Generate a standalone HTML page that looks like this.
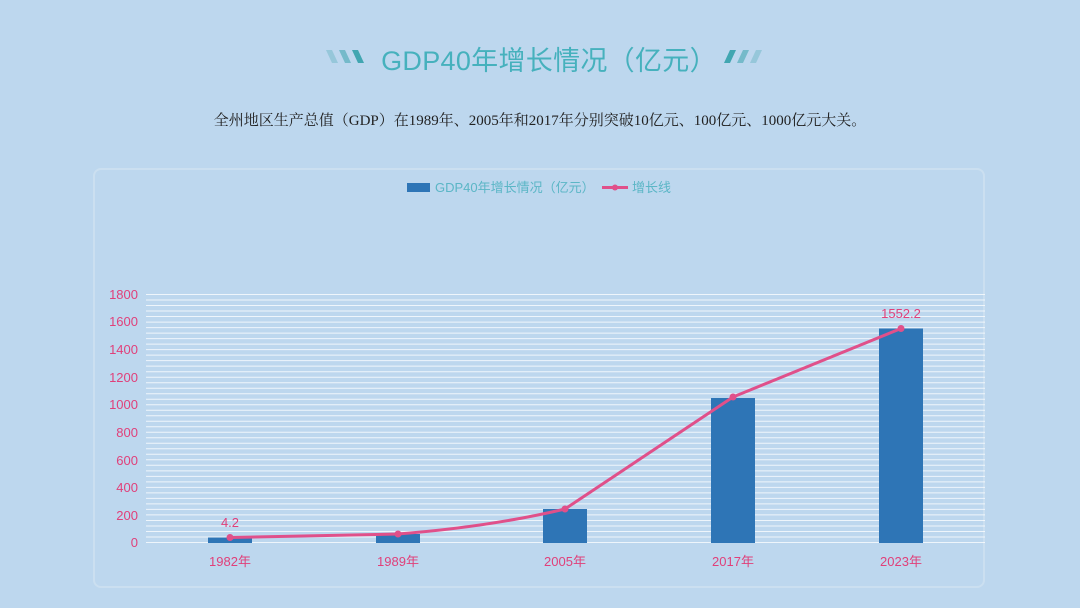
<!DOCTYPE html>
<html><head><meta charset="utf-8">
<style>
html,body{margin:0;padding:0;}
body{width:1080px;height:608px;background:#bdd7ee;overflow:hidden;position:relative;font-family:"Liberation Sans","Noto Sans CJK SC",sans-serif;}
.title{position:absolute;left:14px;top:41px;width:1070px;text-align:center;font-size:27px;color:#46b1bd;letter-spacing:0.3px;line-height:40px;}
.sub{position:absolute;left:0;top:109px;width:1080px;text-align:center;font-family:"Liberation Serif","Noto Serif CJK SC",serif;font-size:15px;color:#222;line-height:24px;}
.panel{position:absolute;left:93px;top:168px;width:892px;height:420px;border:2px solid #cbdff0;border-radius:8px;box-sizing:border-box;}
svg{position:absolute;left:0;top:0;}
</style></head><body>
<div class="panel"></div>
<div class="title">GDP40年增长情况（亿元）</div>
<div class="sub">全州地区生产总值（GDP）在1989年、2005年和2017年分别突破10亿元、100亿元、1000亿元大关。</div>
<svg width="1080" height="608" viewBox="0 0 1080 608">
  <!-- title slashes -->
  <g>
    <polygon points="326,50 332,50 338,63 332,63" fill="#3aa3ad" opacity="0.3"/>
    <polygon points="339,50 345,50 351,63 345,63" fill="#3aa3ad" opacity="0.55"/>
    <polygon points="352,50 358,50 364,63 358,63" fill="#3aa3ad" opacity="0.95"/>
    <polygon points="730,50 736,50 730,63 724,63" fill="#3aa3ad" opacity="0.95"/>
    <polygon points="743,50 749,50 743,63 737,63" fill="#3aa3ad" opacity="0.55"/>
    <polygon points="756,50 762,50 756,63 750,63" fill="#3aa3ad" opacity="0.3"/>
  </g>
  <!-- legend -->
  <rect x="407" y="183" width="23" height="9" fill="#2e75b6"/>
  <text x="435" y="192" font-size="13" fill="#5bb6c6" font-family="Liberation Sans, Noto Sans CJK SC, sans-serif">GDP40年增长情况（亿元）</text>
  <line x1="602" y1="187.5" x2="628" y2="187.5" stroke="#e0508a" stroke-width="3"/>
  <circle cx="615" cy="187.5" r="3" fill="#e0508a"/>
  <text x="632" y="192" font-size="13" fill="#5bb6c6" font-family="Liberation Sans, Noto Sans CJK SC, sans-serif">增长线</text>
  <!-- gridlines -->
  <g stroke="#ffffff" stroke-opacity="0.75" stroke-width="1">
    <line x1="146" y1="294.5" x2="985" y2="294.5"/>
  </g>
  <g id="grid"></g>
  <!-- y labels -->
  <g font-size="13" fill="#e0407a" text-anchor="end" font-family="Liberation Sans, sans-serif">
    <text x="138" y="299">1800</text>
    <text x="138" y="326">1600</text>
    <text x="138" y="354">1400</text>
    <text x="138" y="382">1200</text>
    <text x="138" y="409">1000</text>
    <text x="138" y="437">800</text>
    <text x="138" y="465">600</text>
    <text x="138" y="492">400</text>
    <text x="138" y="520">200</text>
    <text x="138" y="547">0</text>
  </g>
  <!-- bars -->
  <g fill="#2e75b6">
    <rect x="208" y="537.5" width="44" height="5.5"/>
    <rect x="376" y="534" width="44" height="9"/>
    <rect x="543" y="509" width="44" height="34"/>
    <rect x="711" y="398" width="44" height="145"/>
    <rect x="879" y="328.5" width="44" height="214.5"/>
  </g>
  <!-- line -->
  <path d="M230,537.5 L398,534 C450,530 510,522 565,509 L733,397 L901,328.5" fill="none" stroke="#e0508a" stroke-width="3" stroke-linejoin="round"/>
  <g fill="#e0508a">
    <circle cx="230" cy="537.5" r="3.5"/>
    <circle cx="398" cy="534" r="3.5"/>
    <circle cx="565" cy="509" r="3.5"/>
    <circle cx="733" cy="397" r="3.5"/>
    <circle cx="901" cy="328.5" r="3.5"/>
  </g>
  <!-- data labels -->
  <g font-size="13" fill="#e0407a" text-anchor="middle" font-family="Liberation Sans, sans-serif">
    <text x="230" y="527">4.2</text>
    <text x="901" y="318">1552.2</text>
  </g>
  <!-- x labels -->
  <g font-size="13" fill="#e0407a" text-anchor="middle" font-family="Liberation Sans, Noto Sans CJK SC, sans-serif">
    <text x="230" y="566">1982年</text>
    <text x="398" y="566">1989年</text>
    <text x="565" y="566">2005年</text>
    <text x="733" y="566">2017年</text>
    <text x="901" y="566">2023年</text>
  </g>
</svg>
<script>
(function(){
  var g=document.getElementById('grid');
  var ns='http://www.w3.org/2000/svg';
  var top=294.5,bot=542.5,n=45;
  for(var i=1;i<=n;i++){
    var y=top+(bot-top)*i/n;
    var l=document.createElementNS(ns,'line');
    l.setAttribute('x1','146');l.setAttribute('x2','985');
    l.setAttribute('y1',y.toFixed(1));l.setAttribute('y2',y.toFixed(1));
    l.setAttribute('stroke','#ffffff');l.setAttribute('stroke-opacity','0.75');l.setAttribute('stroke-width','1');
    g.appendChild(l);
  }
})();
</script>
</body></html>
